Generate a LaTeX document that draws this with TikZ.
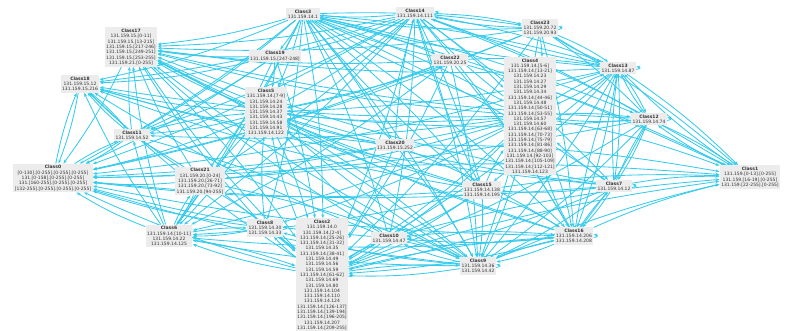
\documentclass[tikz,border=0pt]{standalone}
\usepackage{fontspec}
\setmainfont{DejaVu Sans}
\usetikzlibrary{arrows.meta,backgrounds}
\definecolor{edgec}{HTML}{36CBEC}
\definecolor{boxc}{HTML}{ECECEC}
\definecolor{txt}{HTML}{333333}
\begin{document}
\begin{tikzpicture}[x=1pt,y=-1pt,
  cls/.style={fill=boxc,align=center,inner sep=1.6pt,text=txt,font=\fontsize{4.5}{5.3}\selectfont},
  edge/.style={draw=edgec,line width=0.85pt,-{Stealth[length=4pt,width=3pt]}},
  loopedge/.style={edge,looseness=4}]
\useasboundingbox (0,0) rectangle (785,331);
\node[cls] (c3) at (303,14) {\textbf{Class3}\\131.159.14.1};
\node[cls] (c14) at (415,13) {\textbf{Class14}\\131.159.14.111};
\node[cls] (c23) at (540,28) {\textbf{Class23}\\131.159.20.72\\131.159.20.93};
\node[cls] (c17) at (131,47) {\textbf{Class17}\\131.159.15.[0-11]\\131.159.15.[13-215]\\131.159.15.[217-246]\\131.159.15.[249-251]\\131.159.15.[253-255]\\131.159.21.[0-255]};
\node[cls] (c19) at (275,56) {\textbf{Class19}\\131.159.15.[247-248]};
\node[cls] (c22) at (450,60) {\textbf{Class22}\\131.159.20.25};
\node[cls] (c4) at (530,116) {\textbf{Class4}\\131.159.14.[5-6]\\131.159.14.[13-21]\\131.159.14.23\\131.159.14.27\\131.159.14.29\\131.159.14.34\\131.159.14.[44-46]\\131.159.14.48\\131.159.14.[50-51]\\131.159.14.[53-55]\\131.159.14.57\\131.159.14.60\\131.159.14.[63-68]\\131.159.14.[70-73]\\131.159.14.[75-79]\\131.159.14.[81-86]\\131.159.14.[88-90]\\131.159.14.[92-103]\\131.159.14.[105-109]\\131.159.14.[112-121]\\131.159.14.123};
\node[cls] (c13) at (618,68) {\textbf{Class13}\\131.159.14.87};
\node[cls] (c18) at (80,84) {\textbf{Class18}\\131.159.15.12\\131.159.15.216};
\node[cls] (c5) at (266,112) {\textbf{Class5}\\131.159.14.[7-9]\\131.159.14.24\\131.159.14.28\\131.159.14.37\\131.159.14.43\\131.159.14.58\\131.159.14.91\\131.159.14.122};
\node[cls] (c11) at (132,135) {\textbf{Class11}\\131.159.14.52};
\node[cls] (c12) at (649,119) {\textbf{Class12}\\131.159.14.74};
\node[cls] (c20) at (395,145) {\textbf{Class20}\\131.159.15.252};
\node[cls] (c0) at (53,178) {\textbf{Class0}\\{}[0-130].[0-255].[0-255].[0-255]\\131.[0-158].[0-255].[0-255]\\131.[160-255].[0-255].[0-255]\\{}[132-255].[0-255].[0-255].[0-255]};
\node[cls] (c21) at (200,181) {\textbf{Class21}\\131.159.20.[0-24]\\131.159.20.[26-71]\\131.159.20.[73-92]\\131.159.20.[94-255]};
\node[cls] (c1) at (750,177) {\textbf{Class1}\\131.159.[0-13].[0-255]\\131.159.[16-19].[0-255]\\131.159.[22-255].[0-255]};
\node[cls] (c7) at (614,186) {\textbf{Class7}\\131.159.14.12};
\node[cls] (c15) at (482,190) {\textbf{Class15}\\131.159.14.138\\131.159.14.195};
\node[cls] (c6) at (169,236) {\textbf{Class6}\\131.159.14.[10-11]\\131.159.14.22\\131.159.14.125};
\node[cls] (c8) at (265,228) {\textbf{Class8}\\131.159.14.30\\131.159.14.33};
\node[cls] (c2) at (322,275) {\textbf{Class2}\\131.159.14.0\\131.159.14.[2-4]\\131.159.14.[25-26]\\131.159.14.[31-32]\\131.159.14.35\\131.159.14.[38-41]\\131.159.14.49\\131.159.14.56\\131.159.14.59\\131.159.14.[61-62]\\131.159.14.69\\131.159.14.80\\131.159.14.104\\131.159.14.110\\131.159.14.124\\131.159.14.[126-137]\\131.159.14.[139-194]\\131.159.14.[196-205]\\131.159.14.207\\131.159.14.[209-255]};
\node[cls] (c10) at (389,238) {\textbf{Class10}\\131.159.14.47};
\node[cls] (c16) at (574,236) {\textbf{Class16}\\131.159.14.206\\131.159.14.208};
\node[cls] (c9) at (478,266) {\textbf{Class9}\\131.159.14.36\\131.159.14.42};
\begin{scope}[on background layer]
\foreach \a/\b in {c3/c17,c3/c19,c3/c18,c3/c5,c3/c11,c3/c0,c3/c21,c3/c6,c3/c8,c3/c2,c3/c10,c3/c9,c3/c15,c3/c16,c3/c4,c3/c13,c3/c23,c3/c1,c3/c12,c3/c7,c3/c22,c3/c20,
c14/c3,c14/c17,c14/c19,c14/c18,c14/c5,c14/c0,c14/c2,c14/c9,c14/c16,c14/c15,c14/c4,c14/c13,c14/c23,c14/c1,c14/c12,c14/c7,c14/c6,c14/c21,c14/c10,c14/c11,
c23/c14,c23/c3,c23/c17,c23/c4,c23/c13,c23/c1,c23/c2,c23/c9,c23/c16,c23/c5,c23/c0,c23/c12,
c22/c17,c22/c3,c22/c5,c22/c0,c22/c2,c22/c9,c22/c16,c22/c13,c22/c1,c22/c6,
c19/c17,c19/c18,c19/c5,c19/c0,c19/c2,c19/c6,c19/c11,
c17/c0,c17/c2,c17/c9,
c13/c14,c13/c23,c13/c1,c13/c12,c13/c7,c13/c16,c13/c9,c13/c2,c13/c4,c13/c0,c13/c17,c13/c3,c13/c5,c13/c15,
c12/c1,c12/c7,c12/c16,c12/c9,c12/c2,c12/c4,c12/c0,c12/c17,c12/c13,c12/c5,
c7/c1,c7/c12,c7/c16,c7/c9,c7/c2,c7/c0,c7/c17,c7/c5,c7/c4,c7/c13,c7/c15,c7/c18,
c4/c17,c4/c18,c4/c0,c4/c5,c4/c2,c4/c9,c4/c16,c4/c1,c4/c13,c4/c12,c4/c6,c4/c21,c4/c11,c4/c10,c4/c8,c4/c3,c4/c14,
c5/c17,c5/c18,c5/c0,c5/c2,c5/c9,c5/c6,c5/c11,
c11/c0,c11/c18,c11/c17,c11/c2,c11/c9,c11/c5,
c18/c11,c18/c0,
c21/c0,c21/c6,c21/c2,c21/c18,c21/c17,c21/c9,c21/c1,
c20/c3,c20/c14,c20/c0,c20/c17,c20/c2,c20/c9,c20/c16,c20/c1,c20/c18,c20/c5,
c15/c0,c15/c17,c15/c18,c15/c2,c15/c9,c15/c16,c15/c1,c15/c5,c15/c4,c15/c6,c15/c10,c15/c3,c15/c14,
c16/c0,c16/c1,c16/c2,c16/c9,c16/c17,c16/c5,c16/c4,c16/c7,c16/c13,c16/c6,c16/c10,
c9/c0,c9/c2,c9/c16,c9/c17,c9/c5,c9/c1,c9/c10,c9/c6,c9/c8,
c10/c0,c10/c2,c10/c9,c10/c17,c10/c5,c10/c18,c10/c1,c10/c16,
c6/c0,c6/c17,c6/c18,c6/c2,c6/c8,c6/c5,c6/c11,c6/c21,
c8/c6,c8/c2,c8/c0,c8/c17,c8/c5,
c2/c0,c2/c17,c2/c18,c2/c5,c2/c9,c2/c16,c2/c1,c2/c6,c2/c10,c2/c8,
c1/c13,c1/c12,c0/c18,c0/c11}
  \draw[edge] (\a) to[bend left=5] (\b);
\foreach \n in {c14,c23,c13,c12,c7,c16,c9,c8,c6,c10,c2}
  \draw[loopedge] ([yshift=-1.5pt]\n.east) to[out=10,in=-10] ([yshift=1.5pt]\n.east);
\end{scope}
\end{tikzpicture}
\end{document}
